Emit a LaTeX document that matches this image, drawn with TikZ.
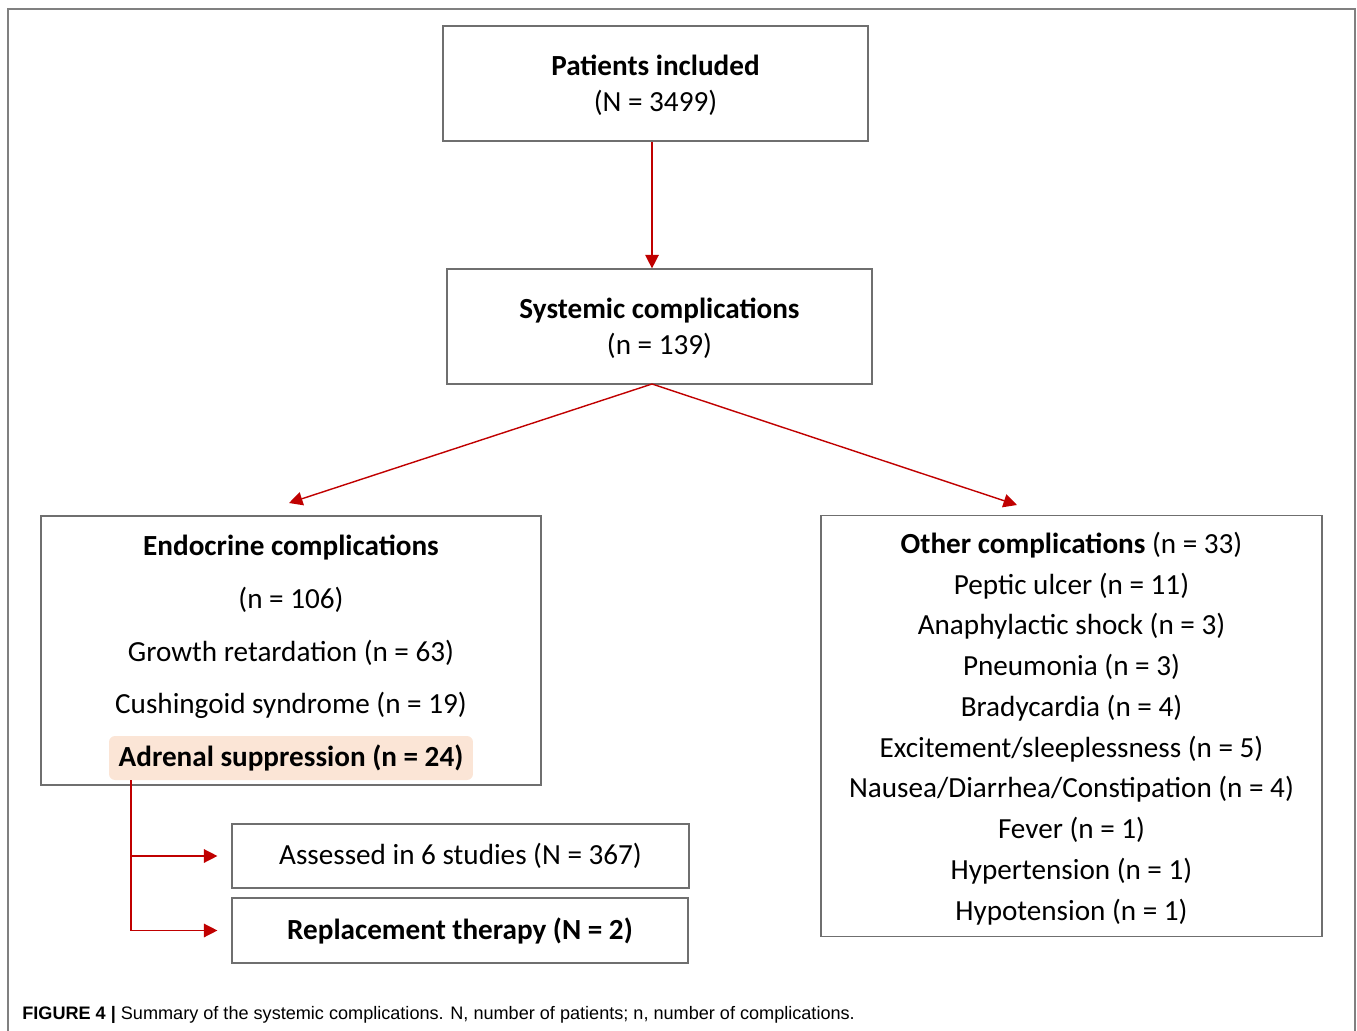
\documentclass[tikz,border=0pt]{standalone}
\usepackage{fontspec}
\setmainfont{Carlito}
\newfontfamily\capfont{Liberation Sans}
\usetikzlibrary{arrows.meta}

\definecolor{linkred}{HTML}{C00000}
\definecolor{boxgray}{HTML}{6F6F6F}
\definecolor{peach}{HTML}{FBE5D6}

\tikzstyle{block}=[rectangle, draw=boxgray, line width=0.7pt, inner sep=0pt, align=center]
\tikzstyle{tallblock}=[block, text depth=0pt]
\tikzstyle{txt}=[inner sep=0pt, align=center]
\tikzstyle{hilite}=[rectangle, rounded corners=0.12cm, fill=peach, inner sep=0pt, minimum width=7.28cm, minimum height=0.88cm]
\tikzstyle{link}=[draw=linkred, line width=0.8pt, -{Triangle[length=0.27cm, width=0.27cm]}]

\begin{document}
\begin{tikzpicture}[x=0.02cm, y=-0.02cm, font=\fontsize{16.6}{20.4}\selectfont]
\useasboundingbox (0,0) rectangle (1357,1031);
\draw[gray, line width=1.1pt] (8,1031) -- (8,9) -- (1355,9) -- (1355,1031);

\node[tallblock, minimum width=8.5cm, minimum height=2.3cm](patients) at (655.5,83.5)
  {\textbf{Patients included}\\(N = 3499)};
\node[tallblock, minimum width=8.5cm, minimum height=2.3cm](systemic) at (659.5,326.5)
  {\textbf{Systemic complications}\\(n = 139)};

\node[block, minimum width=10cm, minimum height=5.38cm](endo) at (291,650.5) {};
\node[txt, font=\fontsize{16.6}{30}\selectfont](endolist) at (291,627)
  {\textbf{Endocrine complications}\\(n = 106)\\Growth retardation (n = 63)\\Cushingoid syndrome (n = 19)};
\node[hilite](adrenal) at (291,758) {\textbf{Adrenal suppression (n = 24)}};

\node[tallblock, minimum width=10.02cm, minimum height=8.42cm, font=\fontsize{16.6}{23.2}\selectfont](other) at (1071.5,726)
  {\textbf{Other complications} (n = 33)\\Peptic ulcer (n = 11)\\Anaphylactic shock (n = 3)\\Pneumonia (n = 3)\\Bradycardia (n = 4)\\Excitement/sleeplessness (n = 5)\\Nausea/Diarrhea/Constipation (n = 4)\\Fever (n = 1)\\Hypertension (n = 1)\\Hypotension (n = 1)};

\node[block, minimum width=9.14cm, minimum height=1.28cm](assessed) at (460.5,856)
  {Assessed in 6 studies (N = 367)};
\node[block, minimum width=9.12cm, minimum height=1.3cm](replace) at (460,930.5)
  {\textbf{Replacement therapy (N = 2)}};

\coordinate (fork) at (652,384);
\coordinate (endotip) at (289,503);
\coordinate (othertip) at (1017,505);
\coordinate (split) at (131,780);

\begin{scope}[every path/.style={link}]
       \draw (patients.south -| fork) -- (systemic.north -| fork);
       \draw (fork) -- (endotip);
       \draw (fork) -- (othertip);
       \draw (split) |- ([xshift=-0.28cm]assessed.west);
       \draw (split) |- ([xshift=-0.28cm]replace.west);
\end{scope}

\node[anchor=base west, inner sep=0pt, font=\capfont\fontsize{10.3}{12}\selectfont](caption) at (22,1019)
  {\textbf{FIGURE 4 |} Summary of the systemic complications. N, number of patients; n, number of complications.};
\end{tikzpicture}
\end{document}
